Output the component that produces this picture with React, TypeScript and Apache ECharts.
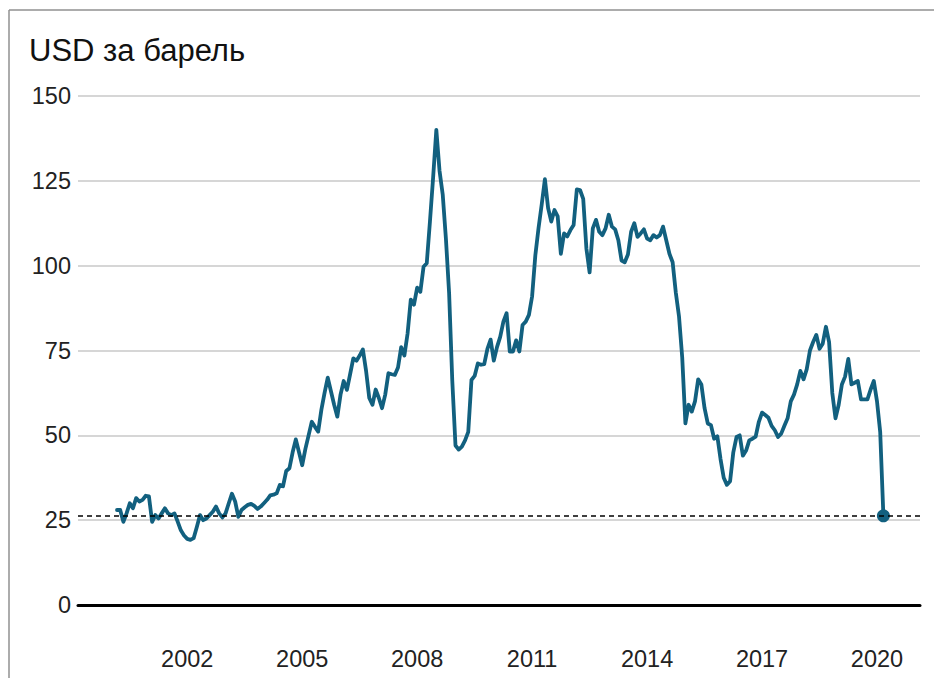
import { useEffect, useRef } from "react";
import * as echarts from "echarts";

const chartTitle = "USD за барель";
const startYear = 2000;
const startMonth = 3; // first point: March 2000, monthly to March 2020

const prices2000_2004 = [
  28, 28, 24.5, 27, 30, 28.5, 31.5, 30.5, 31, 32.2,
  32, 24.5, 26.5, 25.5, 27, 28.5, 27, 26.5, 27, 24.6, 22, 20.5,
  19.5, 19.2, 19.7, 23, 26.5, 25, 25.5, 26.5, 27.5, 29, 27, 25.8,
  27, 30, 32.8, 30.5, 26, 28, 28.8, 29.5, 29.8, 29.2, 28.3, 29,
  30, 31, 32.3, 32.5, 32.9, 35.4, 35, 39.5, 40.3, 45, 48.8, 45,
];
const prices2005_2009 = [
  41.2, 46, 50, 54, 52.5, 51.1, 57.5, 62.5, 67, 63, 59, 55.5,
  62, 66, 63.4, 68, 72.7, 72, 73.5, 75.3, 69, 61, 59, 63.5,
  61, 58, 62, 68.3, 68, 67.8, 70, 76, 73.5, 80, 90, 88.5,
  93.5, 92.3, 99.7, 100.7, 113, 126, 140, 128, 121, 108, 92, 66,
  47, 45.8, 46.7, 48.5, 51, 66.3, 67.5, 71.2, 70.8, 71, 75.5, 78.2,
];
const prices2010_2014 = [
  72, 76, 79, 83.5, 86, 74.7, 74.7, 78, 74.7, 82.5, 83.5, 85.5,
  91, 103, 111, 118, 125.5, 117, 113, 116.4, 114.5, 103.5, 109.5, 108.6,
  110.5, 112, 122.5, 122.3, 119.7, 105, 98, 111, 113.5, 110, 109, 111,
  115, 111.5, 110.7, 107.5, 101.5, 101, 103.3, 110, 112.5, 108.5, 109.5, 110.7,
  108, 107.5, 109, 108.3, 109, 111.5, 107.5, 103.5, 101, 92, 85, 73,
];
const prices2015_2020 = [
  53.5, 59, 57, 60, 66.5, 65, 58, 53.5, 53, 49, 49.7, 43,
  37.5, 35.4, 36.5, 45, 49.5, 50, 44, 45.5, 48.5, 49, 49.6, 54,
  56.7, 56, 55.2, 52.8, 51.5, 49.5, 50.5, 52.8, 55, 60, 62, 65,
  69, 66.5, 69.5, 75, 77.5, 79.6, 75.5, 77, 82, 77.5, 62.5, 55,
  59, 65, 67.3, 72.5, 65, 65.5, 66, 60.6, 60.6, 60.6, 63.5, 66,
  60, 51, 26.3,
];

const yearTicks = [2002, 2005, 2008, 2011, 2014, 2017, 2020];

export default function App() {
  const ref = useRef<HTMLDivElement>(null);

  useEffect(() => {
    if (!ref.current) return;
    const chart = echarts.init(ref.current, null, { renderer: "svg" });
    const values = [...prices2000_2004, ...prices2005_2009, ...prices2010_2014, ...prices2015_2020];
    const data = values.map((v, i) => [startYear + (startMonth - 1 + i) / 12, v]);
    const last = data[data.length - 1];
    const font = "'Liberation Sans', Arial, Helvetica, sans-serif";
    const lineColor = "#12607f";

    chart.setOption({
      animation: false,
      backgroundColor: "#ffffff",
      textStyle: { fontFamily: font },
      title: {
        text: chartTitle,
        left: 24,
        top: 30,
        textStyle: { fontSize: 31, fontWeight: "normal", color: "#111", fontFamily: font },
      },
      grid: { left: 78, right: 14, top: 96, bottom: 73, containLabel: false },
      xAxis: {
        type: "value",
        min: 1999.149,
        max: 2021.122,
        splitLine: { show: false },
        axisTick: { show: false },
        axisLine: { show: true, onZero: true, lineStyle: { color: "#000", width: 3 } },
        axisLabel: {
          customValues: yearTicks,
          formatter: (v: number) => String(Math.round(v)),
          fontSize: 23.5,
          color: "#222",
          margin: 42,
          fontFamily: font,
        },
      },
      yAxis: {
        type: "value",
        min: 0,
        max: 150,
        interval: 25,
        axisLine: { show: false },
        axisTick: { show: false },
        splitLine: { lineStyle: { color: "#c8c8c8", width: 1.5 } },
        axisLabel: { fontSize: 23.5, color: "#222", margin: 7, fontFamily: font },
      },
      graphic: [
        { type: "line", shape: { x1: 9, y1: 10, x2: 934, y2: 10 }, style: { stroke: "#909090", lineWidth: 1.5 } },
        { type: "line", shape: { x1: 9, y1: 10, x2: 9, y2: 678 }, style: { stroke: "#909090", lineWidth: 1.5 } },
      ],
      series: [
        {
          type: "line",
          data,
          showSymbol: false,
          symbol: "none",
          lineStyle: { color: lineColor, width: 3.8, join: "round", cap: "round" },
          itemStyle: { color: lineColor },
          markLine: {
            silent: true,
            symbol: "none",
            label: { show: false },
            lineStyle: { color: "#000", type: [5, 4], width: 1.5 },
            data: [{ yAxis: last[1] }],
          },
          z: 3,
        },
        {
          type: "scatter",
          data: [last],
          symbol: "circle",
          symbolSize: 13,
          itemStyle: { color: lineColor, opacity: 1 },
          z: 4,
        },
      ],
    });

    return () => chart.dispose();
  }, []);

  return <div ref={ref} style={{ position: "fixed", left: 0, top: 0, width: 934, height: 678 }} />;
}
